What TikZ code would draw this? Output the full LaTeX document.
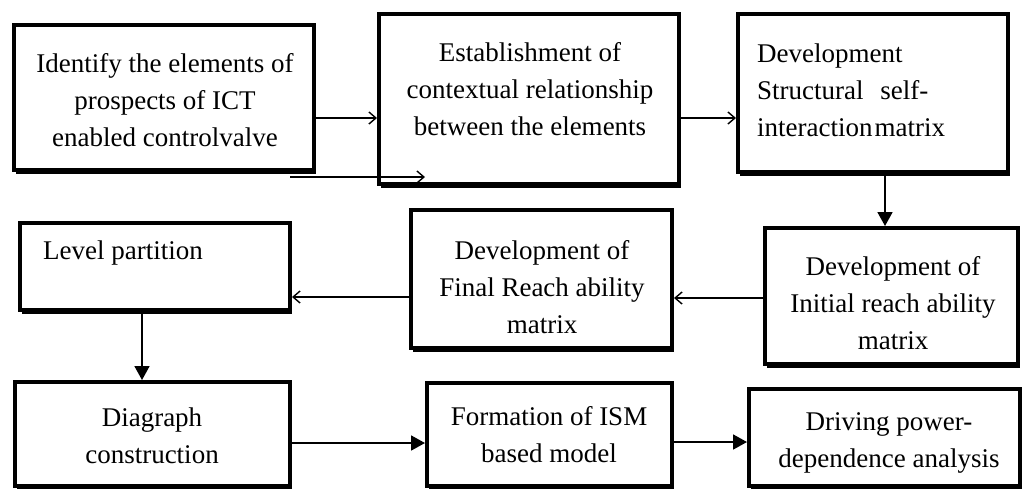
\documentclass[tikz,border=0pt]{standalone}
\usepackage{fontspec}
\setmainfont{Liberation Serif}
\usetikzlibrary{arrows.meta,shadows}
\begin{document}
\begin{tikzpicture}[x=1pt,y=-1pt,
  box/.style={draw, line width=4pt, fill=white, inner sep=0pt,
    drop shadow={shadow xshift=2pt, shadow yshift=-4pt, opacity=1, fill=black}},
  txt/.style={font=\fontsize{27}{37}\selectfont, align=center, inner sep=0pt},
  ltxt/.style={font=\fontsize{27}{37}\selectfont, align=left, inner sep=0pt, anchor=west},
  thinarrow/.style={line width=1.4pt, -{Straight Barb[length=7pt,width=12pt]}},
  fatarrow/.style={line width=1.8pt, -{Triangle[length=14pt,width=15pt]}}]
\useasboundingbox (0,0) rectangle (1028,488);
\fill[white] (0,0) rectangle (1028,488);
% boxes
\node[box, minimum width=300pt, minimum height=145pt] (A) at (164,97.5) {};
\node[box, minimum width=300pt, minimum height=170pt] (B) at (529,99) {};
\node[box, minimum width=270pt, minimum height=158pt] (C) at (873,93) {};
\node[box, minimum width=253pt, minimum height=136pt] (D) at (891.5,296) {};
\node[box, minimum width=261pt, minimum height=138pt] (E) at (541.5,279) {};
\node[box, minimum width=270pt, minimum height=87pt] (F) at (155,266.5) {};
\node[box, minimum width=275pt, minimum height=104pt] (G) at (152.5,434) {};
\node[box, minimum width=245pt, minimum height=103pt] (H) at (549.5,434.5) {};
\node[box, minimum width=271pt, minimum height=97pt] (I) at (884.5,437.5) {};
% texts
\node[txt] (tA) at (165,100) {Identify the elements of\\prospects of ICT\\enabled controlvalve};
\node[txt] (tB) at (530,89) {Establishment of\\contextual relationship\\between the elements};
\node[ltxt] (tC) at (757,90) {Development\\Structural\hspace{10pt} self-\\interaction\hspace{2pt}matrix};
\node[txt] (tD) at (893,303) {Development of\\Initial reach ability\\matrix};
\node[txt] (tE) at (542,287) {Development of\\Final Reach ability\\matrix};
\node[ltxt] (tF) at (43,253) {Level partition};
\node[txt] (tG) at (152,436) {Diagraph\\construction};
\node[txt] (tH) at (549,435) {Formation of ISM\\based model};
\node[txt] (tI) at (889,443) {Driving power-\\dependence analysis};
% connectors
\coordinate (s2) at (290,177);
\coordinate (e2) at (425,177);
\draw[thinarrow] (A.east |- 0,118) -- (B.west |- 0,118);
\draw[thinarrow] (s2) -- (e2);
\draw[thinarrow] (B.east |- 0,118) -- (C.west |- 0,118);
\draw[fatarrow] (C.south -| 885,0) -- (D.north -| 885,0);
\draw[thinarrow] (D.west |- 0,298) -- (E.east |- 0,298);
\draw[thinarrow] (E.west |- 0,297) -- (F.east |- 0,297);
\draw[fatarrow] (F.south -| 142,0) -- (G.north -| 142,0);
\draw[fatarrow] (G.east |- 0,443) -- (H.west |- 0,443);
\draw[fatarrow] (H.east |- 0,442) -- (I.west |- 0,442);
\end{tikzpicture}
\end{document}
